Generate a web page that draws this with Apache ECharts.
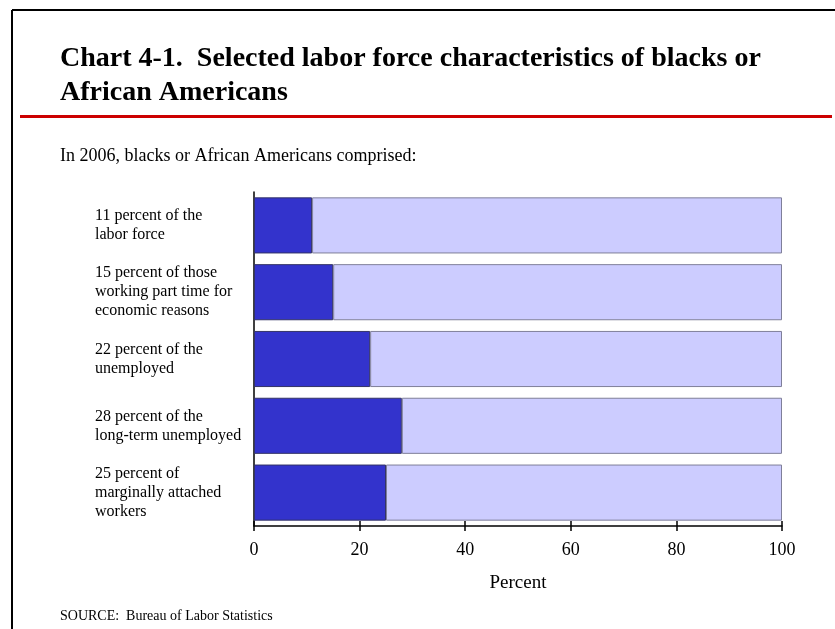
<!DOCTYPE html>
<html>
<head>
<meta charset="utf-8">
<script src="https://cdn.jsdelivr.net/npm/echarts@6/dist/echarts.min.js"></script>
<style>
html, body {margin:0; padding:0; background:#fff;}
#chart {width:835px; height:629px;}
</style>
</head>
<body>
<div id="chart"></div>
<script>
// categories, top to bottom
var categories = [
    '11 percent of the\nlabor force',
    '15 percent of those\nworking part time for\neconomic reasons',
    '22 percent of the\nunemployed',
    '28 percent of the\nlong-term unemployed',
    '25 percent of\nmarginally attached\nworkers'
];
var blackShare = [11, 15, 22, 28, 25];
var restShare = [89, 85, 78, 72, 75];
var xTicks = [0, 20, 40, 60, 80, 100];

var serif = '"Liberation Serif", "Times New Roman", serif';
var myChart = echarts.init(document.getElementById('chart'));

var option = {
    backgroundColor: '#fff',
    animation: false,
    grid: {left: 254, right: 53, top: 192, bottom: 103},
    xAxis: [
        {type: 'value', min: 0, max: 100, interval: 20, position: 'bottom',
            axisLine: {show: true, lineStyle: {color: '#000', width: 1.5}},
            axisTick: {show: true, length: 5, lineStyle: {color: '#000', width: 1.5}},
            axisLabel: {margin: 15, fontFamily: serif, fontSize: 18, color: '#000',
                formatter: function (v) { return xTicks.indexOf(v) >= 0 ? String(v) : ''; }},
            splitLine: {show: false},
            name: 'Percent', nameLocation: 'middle', nameGap: 48,
            nameTextStyle: {fontFamily: serif, fontSize: 19, color: '#000'}},
        {type: 'value', min: 0, max: 100, interval: 20, position: 'bottom',
            axisLine: {show: false},
            axisTick: {show: true, inside: true, length: 5, lineStyle: {color: '#000', width: 1.5}},
            axisLabel: {show: false}, splitLine: {show: false}}
    ],
    yAxis: {
        type: 'category', data: categories, inverse: true,
        axisLine: {show: true, lineStyle: {color: '#000', width: 1.5}},
        axisTick: {show: false},
        axisLabel: {align: 'left', margin: 159, fontFamily: serif, fontSize: 16, lineHeight: 19, color: '#000'}
    },
    series: [
        {name: 'Blacks', type: 'bar', stack: 'all', barWidth: '84%', data: blackShare,
            itemStyle: {color: '#3333cc', borderColor: '#333366', borderWidth: 1}},
        {name: 'Others', type: 'bar', stack: 'all', barWidth: '84%', data: restShare,
            itemStyle: {color: '#ccccff', borderColor: '#7f7f99', borderWidth: 1}}
    ],
    graphic: [
        {type: 'line', shape: {x1: 12, y1: 10, x2: 12, y2: 629}, style: {stroke: '#000', lineWidth: 2}},
        {type: 'line', shape: {x1: 12, y1: 10, x2: 835, y2: 10}, style: {stroke: '#000', lineWidth: 2}},
        {type: 'text', left: 60, top: 45, style: {text: 'Chart 4-1.  Selected labor force characteristics of blacks or',
            font: 'bold 28px ' + serif, fill: '#000'}},
        {type: 'text', left: 60, top: 79, style: {text: 'African Americans', font: 'bold 28px ' + serif, fill: '#000'}},
        {type: 'rect', shape: {x: 20, y: 115, width: 812, height: 3}, style: {fill: '#cc0000'}},
        {type: 'text', left: 60, top: 147, style: {text: 'In 2006, blacks or African Americans comprised:',
            font: '18px ' + serif, fill: '#000'}},
        {type: 'text', left: 60, top: 609, style: {text: 'SOURCE:  Bureau of Labor Statistics',
            font: '14px ' + serif, fill: '#000'}}
    ]
};

myChart.setOption(option);
</script>
</body>
</html>
